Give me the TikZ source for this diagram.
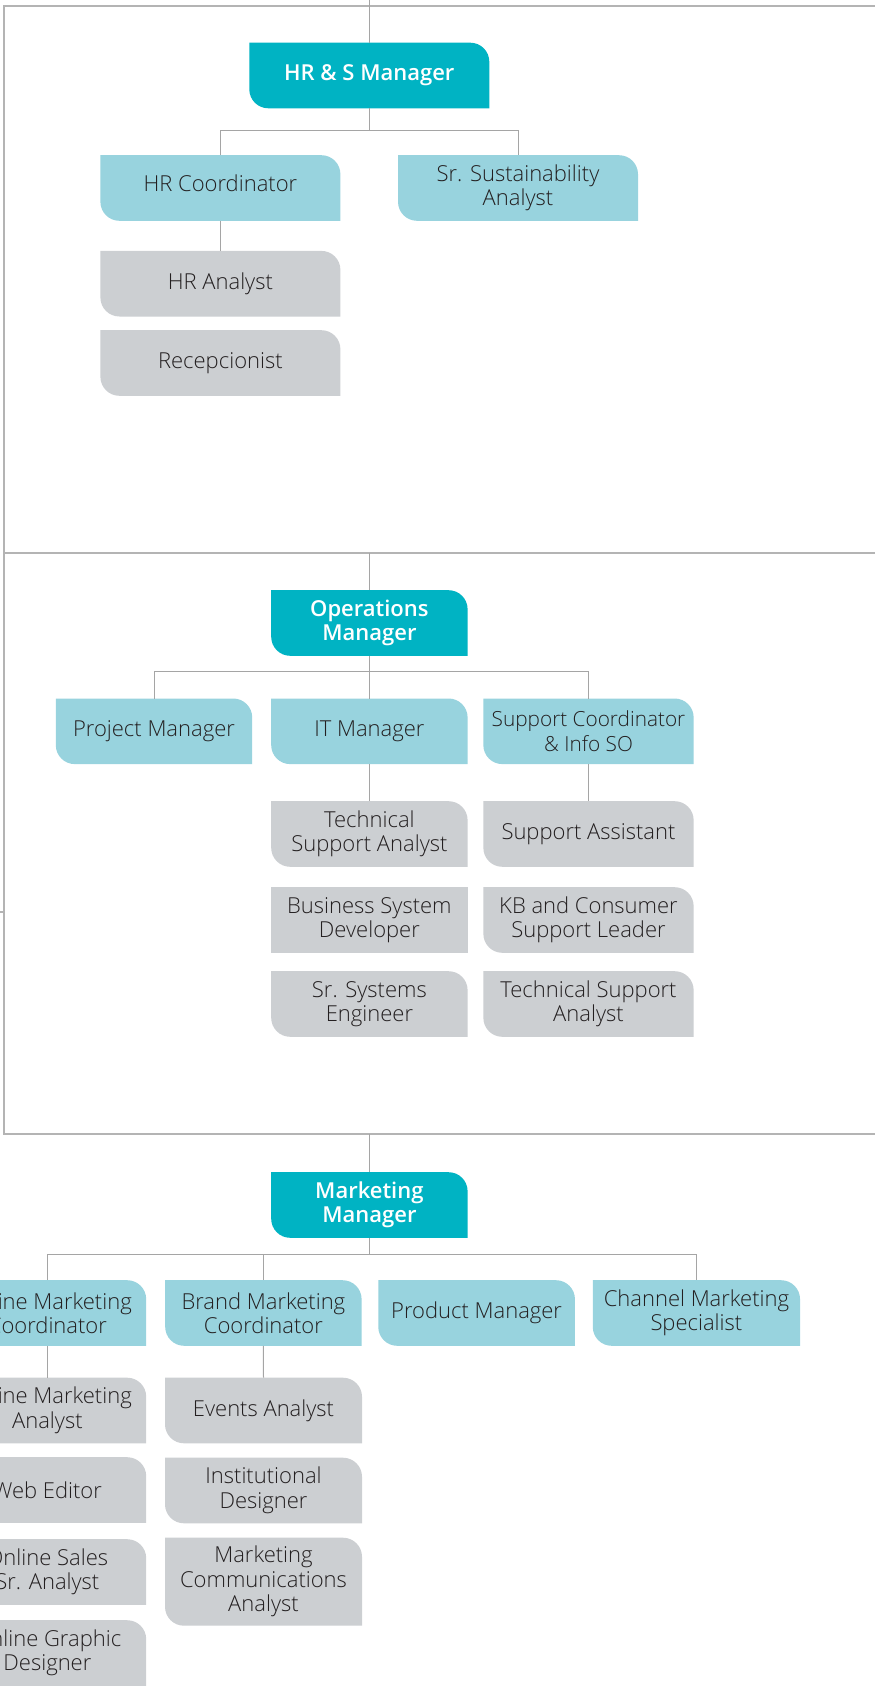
\documentclass[tikz,border=0pt]{standalone}
\usepackage{fontspec}
\setmainfont{Open Sans}[UprightFont=* Light, BoldFont=* Semibold]
\usetikzlibrary{calc}
\definecolor{dark}{RGB}{0,179,195}
\definecolor{light}{RGB}{152,211,222}
\definecolor{greybox}{RGB}{204,207,210}
\definecolor{linec}{RGB}{165,165,165}
\definecolor{framec}{RGB}{180,180,180}
\definecolor{txt}{RGB}{35,31,32}
\newcommand\orgfont{\fontsize{22}{24.5}\selectfont}
\newcommand\orgfontsm{\fontsize{20.8}{24.5}\selectfont}
\tikzset{
  orgbox/.style={rectangle, inner sep=0pt, outer sep=0pt, align=center,
    minimum height=65.6pt, fill=white, font=\orgfont, text=txt,
    path picture={\fill[#1] (path picture bounding box.north west)
      -- ([xshift=-19pt]path picture bounding box.north east)
      arc[start angle=90,end angle=0,radius=19pt]
      -- (path picture bounding box.south east)
      -- ([xshift=19pt]path picture bounding box.south west)
      arc[start angle=270,end angle=180,radius=19pt] -- cycle;}},
  mgr/.style={orgbox=dark, text=white, font=\orgfont\bfseries},
  lead/.style={orgbox=light},
  staff/.style={orgbox=greybox},
  staffsq/.style={rectangle, inner sep=0pt, outer sep=0pt, align=center,
    minimum height=66pt, fill=greybox, font=\orgfont, text=txt},
  conn/.style={draw=linec, line width=1pt},
  frame/.style={draw=framec, line width=1.5pt},
}
\begin{document}
\begin{tikzpicture}[x=1pt,y=-1pt]
\useasboundingbox (0,0) rectangle (875,1686);
\clip (0,0) rectangle (875,1686);
% frame
\draw[frame] (875,6) -- (4,6) -- (4,1134) -- (875,1134);
\draw[frame] (4,553) -- (875,553);
\draw[frame] (0,912) -- (4,912);

% ---------- HR & S ----------
\node[mgr, minimum width=240pt] (hrs) at (369.3,75.5) {HR \& S Manager};
\node[lead, minimum width=240pt, text depth=9pt] (hrc) at (220.4,188) {HR Coordinator};
\node[lead, minimum width=240pt] (ssa) at (518,188) {Sr. Sustainability\\Analyst};
\node[staff, minimum width=240pt] (hra) at (220.4,283.7) {HR Analyst};
\node[staff, minimum width=240pt] (rec) at (220.4,363) {Recepcionist};

\coordinate (top) at (369.3,0);
\coordinate (j1) at (369.3,130);
\draw[conn] (top) -- (hrs.north);
\draw[conn] (hrs.south) -- (j1) -| (hrc.north);
\draw[conn] (j1) -| (ssa.north);
\draw[conn] (hrc.south) -- (hra.north);

% ---------- Operations ----------
\node[mgr, minimum width=196.4pt] (opm) at (369.4,623) {Operations\\Manager};
\node[lead, minimum width=196.4pt] (pm) at (154,731.3) {Project Manager};
\node[lead, minimum width=196.4pt] (itm) at (369.4,731.3) {IT Manager};
\node[lead, minimum width=210.3pt, font=\orgfontsm] (sc) at (588.5,731.3) {Support Coordinator\\\& Info SO};
\node[staff, minimum width=196.4pt] (tsa) at (369.4,834) {Technical\\Support Analyst};
\node[staffsq, minimum width=196.4pt] (bsd) at (369.4,920.3) {Business System\\Developer};
\node[staff, minimum width=196.4pt] (sse) at (369.4,1004) {Sr. Systems\\Engineer};
\node[staff, minimum width=210.3pt] (sa) at (588.5,834) {Support Assistant};
\node[staff, minimum width=210.3pt] (kb) at (588.5,920) {KB and Consumer\\Support Leader};
\node[staff, minimum width=210.3pt] (tsb) at (588.5,1004) {Technical Support\\Analyst};

\coordinate (s1) at (369.4,553);
\coordinate (j2) at (369.4,671);
\draw[conn] (s1) -- (opm.north);
\draw[conn] (opm.south) -- (j2) -| (pm.north);
\draw[conn] (j2) -- (itm.north);
\draw[conn] (j2) -| (sc.north);
\draw[conn] (itm.south) -- (tsa.north);
\draw[conn] (sc.south) -- (sa.north);

% ---------- Marketing ----------
\node[mgr, minimum width=196.4pt] (mm) at (369.4,1205) {Marketing\\Manager};
\node[lead, minimum width=197.6pt] (omc) at (47.4,1313) {Online Marketing\\Coordinator};
\node[lead, minimum width=196.4pt] (bmc) at (263.4,1313) {Brand Marketing\\Coordinator};
\node[lead, minimum width=196.7pt] (pdm) at (476.6,1313) {Product Manager};
\node[lead, minimum width=207.3pt] (cms) at (696.4,1313) {Channel Marketing\\Specialist};
\node[staff, minimum width=197.6pt] (oma) at (47.4,1410.5) {Online Marketing\\Analyst};
\node[staff, minimum width=197.6pt] (we) at (47.4,1490) {Web Editor};
\node[staff, minimum width=197.6pt] (oss) at (47.4,1572) {Online Sales\\Sr. Analyst};
\node[staff, minimum width=197.6pt] (ogd) at (47.4,1653) {Online Graphic\\Designer};
\node[staff, minimum width=197pt] (ea) at (263.5,1410.5) {Events Analyst};
\node[staff, minimum width=197pt] (ind) at (263.5,1490.5) {Institutional\\Designer};
\node[staff, minimum width=197pt, minimum height=88pt] (mca) at (263.5,1581.7) {Marketing\\Communications\\Analyst};

\coordinate (s2) at (369.4,1134);
\coordinate (j3) at (369.4,1254);
\draw[conn] (s2) -- (mm.north);
\draw[conn] (mm.south) -- (j3) -| (omc.north);
\draw[conn] (j3) -| (bmc.north);
\draw[conn] (j3) -| (cms.north);
\draw[conn] (omc.south) -- (oma.north);
\draw[conn] (bmc.south) -- (ea.north);
\end{tikzpicture}
\end{document}
